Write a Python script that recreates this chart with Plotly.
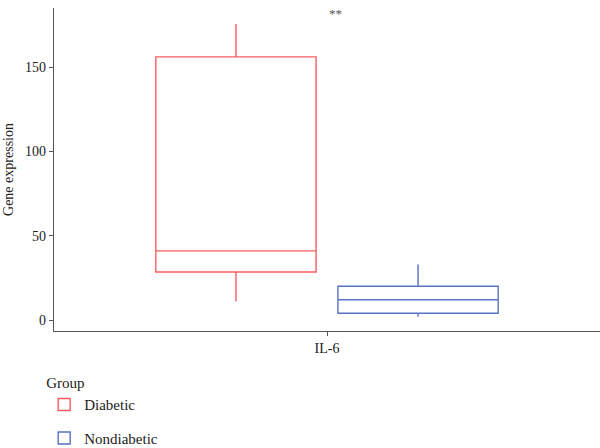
import plotly.graph_objects as go

category = ["IL-6"]
groups = ["Diabetic", "Nondiabetic"]
lowerfence = [11, 2]
q1 = [28.5, 4]
median = [41, 12]
q3 = [156, 20]
upperfence = [175.5, 33]
colors = ["#F65D62", "#5872C4"]

fig = go.Figure()
for i, g in enumerate(groups):
    fig.add_trace(go.Box(
        x=category, name=g, legendgroup=g,
        q1=[q1[i]], median=[median[i]], q3=[q3[i]],
        lowerfence=[lowerfence[i]], upperfence=[upperfence[i]],
        line=dict(color=colors[i], width=1.4),
        fillcolor="rgba(255,255,255,0)",
        whiskerwidth=0, boxpoints=False, hoverinfo="skip",
    ))

fig.add_annotation(x=0.016, y=182, xref="x", yref="y", text="**", showarrow=False,
                   font=dict(size=13, color="#555555"))

axis_font = dict(family="Liberation Serif", size=14, color="#222222")
legend_font = dict(family="Liberation Serif", size=15, color="#222222")
fig.update_layout(
    width=600, height=448,
    margin=dict(l=54, r=0, t=8, b=117, autoexpand=False),
    paper_bgcolor="white", plot_bgcolor="white",
    boxmode="group", boxgap=0.333, boxgroupgap=0.12,
    font=axis_font,
    xaxis=dict(type="category", range=[-0.5, 0.5], showline=True, linecolor="#555555",
               linewidth=1.2, ticks="outside", ticklen=4, tickcolor="#555555",
               showgrid=False, zeroline=False, tickfont=axis_font, automargin=False),
    yaxis=dict(range=[-6.5, 185], showline=True, linecolor="#555555", linewidth=1.2,
               ticks="outside", ticklen=4, tickcolor="#555555", tickvals=[0, 50, 100, 150],
               showgrid=False, zeroline=False, tickfont=axis_font, automargin=False,
               title=dict(text="Gene expression", font=axis_font, standoff=8)),
    legend=dict(title=dict(text="Group", font=legend_font), font=legend_font,
                orientation="v", x=-0.018, y=-0.117, xanchor="left", yanchor="top",
                tracegroupgap=11, bgcolor="rgba(0,0,0,0)"),
    showlegend=True,
)

fig.write_html(
    "out.html",
    config={"displayModeBar": False},
    post_script="document.body.style.margin='0';document.body.style.overflow='hidden';",
)
